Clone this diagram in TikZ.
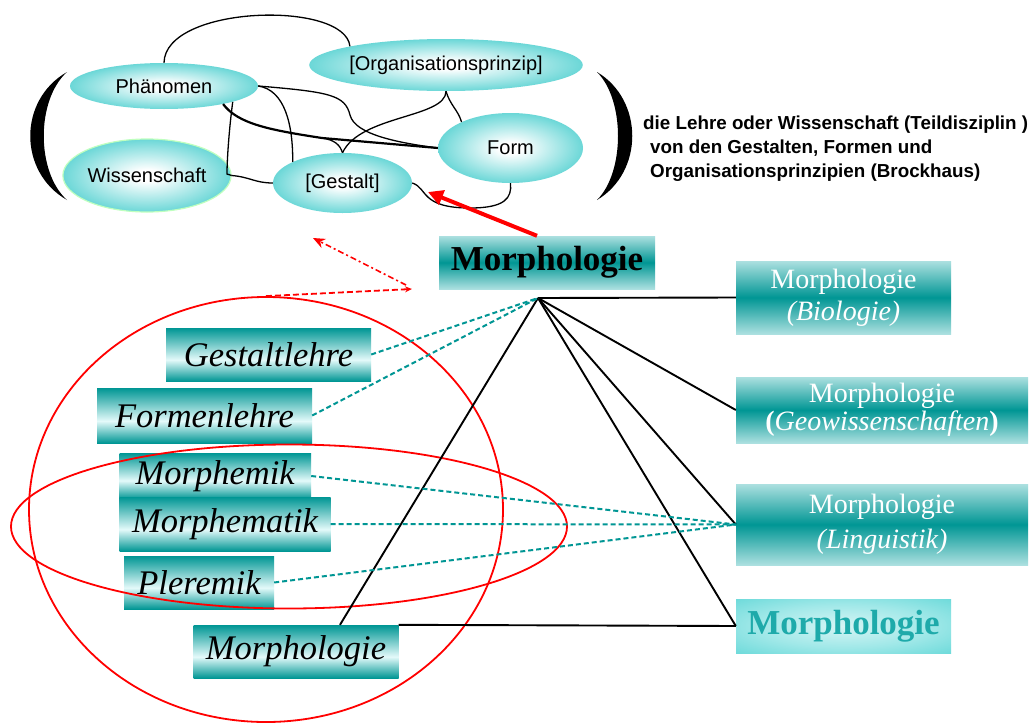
\documentclass[tikz,border=0pt]{standalone}
\usepackage{fontspec}
\setmainfont{Liberation Serif}
\newfontfamily\arialf{Liberation Sans}
\usetikzlibrary{arrows.meta,shapes.geometric}
\definecolor{tq}{RGB}{44,198,198}
\definecolor{tdark}{RGB}{0,150,148}
\definecolor{tlight}{RGB}{228,250,250}
\definecolor{tpale}{RGB}{172,224,224}
\definecolor{cyanb}{RGB}{64,206,206}
\definecolor{cyanl}{RGB}{215,245,245}
\definecolor{cyanm}{RGB}{160,232,232}
\definecolor{tealtxt}{RGB}{30,170,170}
\definecolor{rd}{RGB}{255,0,0}
\pgfdeclareradialshading{ellsh}{\pgfpoint{0bp}{0bp}}{color(0bp)=(white); color(4bp)=(white); color(34bp)=(tq); color(50bp)=(tq)}
\pgfdeclareverticalshading{lboxsh}{100bp}{color(0bp)=(tdark); color(25bp)=(tdark); color(45bp)=(tlight); color(75bp)=(tdark); color(100bp)=(tdark)}
\pgfdeclareverticalshading{rboxsh}{100bp}{color(0bp)=(tpale); color(25bp)=(tpale); color(50bp)=(tdark); color(75bp)=(tpale); color(100bp)=(tpale)}
\pgfdeclareradialshading{boldsh}{\pgfpoint{0bp}{0bp}}{color(0bp)=(cyanl); color(20bp)=(cyanm); color(50bp)=(cyanb)}
\tikzset{
  ell/.style={ellipse, shade, shading=ellsh, inner sep=0pt, font=\arialf\fontsize{20}{22}\selectfont},
  lbox/.style={rectangle, shade, shading=lboxsh, inner sep=0pt, font=\itshape\fontsize{34.5}{36}\selectfont},
  rbox/.style={rectangle, shade, shading=rboxsh, inner sep=0pt, text=white, align=center},
  conn/.style={line width=1.3pt, black},
  tri/.style={line width=1.9pt, black},
  tdash/.style={draw=tdark, line width=2pt, dash pattern=on 5pt off 3pt},
  redl/.style={draw=rd, line width=1.8pt},
  paren/.style={fill=black},
}
\begin{document}
\begin{tikzpicture}[x=1pt,y=-1pt]
\path[use as bounding box, fill=white] (0,0) rectangle (1036,723);

% --- parentheses
\fill[paren] (67,72) .. controls (18,100) and (18,172) .. (67,200) .. controls (36,172) and (36,100) .. (67,72);
\fill[paren] (597,72) .. controls (644,100) and (644,172) .. (597,200) .. controls (625,172) and (625,100) .. (597,72);

% --- top ellipses
\node[ell, minimum width=188pt, minimum height=46pt] (phn) at (164,86) {Phänomen};
\node[ell, minimum width=268pt, minimum height=52pt] (org) at (446,65) {[Organisationsprinzip]};
\node[ell, minimum width=145pt, minimum height=70pt] (form) at (510.5,148) {Form};
\node[ell, minimum width=154pt, minimum height=73pt, draw=green!25, line width=1.2pt] (wiss) at (147,175.5) {Wissenschaft};
\node[ell, minimum width=139pt, minimum height=60pt] (gest) at (342.5,183) {[Gestalt]};

% --- top connectors
\coordinate (j1) at (322,138);
\draw[conn] (phn.north) .. controls (165,5) and (345,0) .. (org.169);
\draw[conn] (phn.east) .. controls (330,92) and (345,95) .. (350,115) .. controls (355,135) and (400,143) .. (form.west);
\draw[conn] (phn.east) .. controls (285,90) and (293,125) .. (gest.157);
\draw[conn] (phn.-13) .. controls (229,130) and (227,160) .. (227,174) -- (wiss.east);
\draw[conn] (wiss.east) .. controls (250,177) and (255,183) .. (gest.west);
\draw[conn, line width=2.2pt] (phn.-17) .. controls (238,124) and (270,130) .. (j1) -- (form.west);
\draw[conn] (j1) .. controls (335,140) and (340,145) .. (gest.north);
\draw[conn] (org.south) .. controls (446,118) and (360,115) .. (gest.north);
\draw[conn] (org.south) .. controls (450,105) and (458,110) .. (form.152);
\draw[conn] (gest.east) .. controls (428,188) and (420,208) .. (470,208) .. controls (505,208) and (512,198) .. (form.south);

% --- definition text
\node[anchor=north west, align=left, inner sep=0pt, font=\arialf\bfseries\fontsize{18.8}{24}\selectfont] (def) at (643,116)
  {die Lehre oder Wissenschaft (Teildisziplin )\\\hspace*{7pt}von den Gestalten, Formen und\\\hspace*{7pt}Organisationsprinzipien (Brockhaus)};

% --- central and right boxes
\node[rbox, minimum width=216pt, minimum height=53pt, text=black, font=\bfseries\fontsize{35}{36}\selectfont] (cm) at (547,262.5) {Morphologie};
\node[rbox, minimum width=215pt, minimum height=73pt, font=\fontsize{28}{32}\selectfont] (bio) at (843.5,297.5) {Morphologie\\\textit{(Biologie)}};
\node[rbox, minimum width=292pt, minimum height=66pt, font=\fontsize{28}{28}\selectfont] (geo) at (882,410) {Morphologie\\{\bfseries(}\textit{Geowissenschaften}{\bfseries)}};
\node[rbox, minimum width=292pt, minimum height=81pt, font=\fontsize{28}{35}\selectfont] (ling) at (882,524.5) {Morphologie\\\textit{(Linguistik)}};
\node[rectangle, shade, shading=boldsh, inner sep=0pt, minimum width=215pt, minimum height=54pt, text=tealtxt, font=\bfseries\fontsize{35}{36}\selectfont] (mbold) at (843.5,626) {Morphologie};

% --- left boxes
\node[lbox, minimum width=205pt, minimum height=53pt] (gl) at (268.5,354.5) {Gestaltlehre};
\node[lbox, minimum width=215pt, minimum height=55pt] (fl) at (204.5,415.5) {Formenlehre};
\node[lbox, minimum width=191.5pt, minimum height=46pt] (mk) at (215.25,476) {Morphemik};
\node[lbox, minimum width=211pt, minimum height=54pt] (mt) at (225,524) {Morphematik};
\node[lbox, minimum width=150pt, minimum height=53pt] (pl) at (199,582.5) {Pleremik};
\node[lbox, minimum width=205pt, minimum height=53pt] (mi) at (296,651.5) {Morphologie};

% --- red ellipses
\node[redl, ellipse, minimum width=474pt, minimum height=425pt, inner sep=0pt] (bigc) at (266,509.5) {};
\node[redl, ellipse, minimum width=556pt, minimum height=164pt, inner sep=0pt] (hell) at (289,526.5) {};

% --- triangle
\coordinate (apex) at (538,298);
\draw[tri] (apex) -- (bio.west);
\draw[tri] (apex) -- (geo.west);
\draw[tri] (apex) -- (ling.west);
\draw[tri] (apex) -- (mbold.west);
\draw[tri] (apex) -- ([xshift=44pt]mi.north);
\draw[tri] (mi.north east) -- (mbold.west);

% --- teal dashed connectors
\draw[tdash] (gl.east) -- (apex);
\draw[tdash] (fl.east) -- (apex);
\draw[tdash] (mk.east) -- (ling.west);
\draw[tdash] (mt.east) -- (ling.west);
\draw[tdash] (pl.east) -- (ling.west);

% --- red arrows
\coordinate (rt) at (428,192);
\coordinate (rd1) at (412,289);
\coordinate (rd2) at (313,238);
\draw[draw=rd, line width=4pt, -{Triangle[length=15pt,width=15pt]}] ([xshift=-10pt]cm.north) -- (rt);
\draw[draw=rd, line width=1.8pt, dash pattern=on 6pt off 3pt, -{Stealth[length=7pt,width=6pt]}] (bigc.north) -- (rd1);
\draw[draw=rd, line width=1.6pt, dash pattern=on 6pt off 3pt on 2pt off 3pt, -{Stealth[length=12pt,width=10pt]}] ([xshift=-6pt,yshift=4pt]rd1) -- (rd2);
\end{tikzpicture}
\end{document}
